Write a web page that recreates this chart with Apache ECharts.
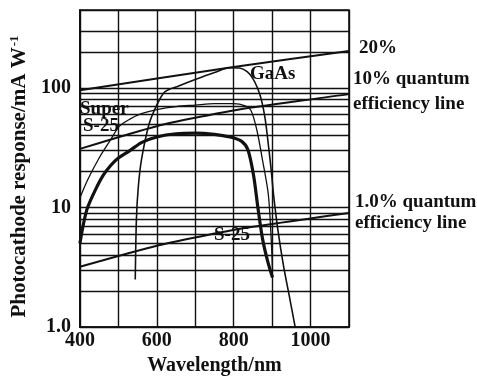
<!DOCTYPE html>
<html><head><meta charset="utf-8">
<script src="https://cdn.jsdelivr.net/npm/echarts@6/dist/echarts.min.js"></script>
<style>html,body{margin:0;padding:0;background:#fff}#c{width:477px;height:381px}</style>
</head><body><div id="c"></div>
<script>
// ---- data ----
const xLabelValues = [400, 600, 800, 1000];
const yLabelText = {1: '1.0', 10: '10', 100: '100'};
const yMinorGrid = [2,3,4,5,6,7,8,9,20,30,40,50,60,70,80,90,200,300];
const qe20 = [[400,96],[800,150],[1100,204]];
const qe10 = [[400,31],[600,48],[800,65],[1100,89]];
const qe1  = [[400,3.2],[600,4.8],[800,6.5],[1100,9.0]];
const s25 = [[400,5],[410,7.5],[420,10],[440,14],[460,18.5],[480,22.5],[500,26],[530,30],[560,35],[600,39],[650,41.5],[700,42],[750,41],[790,39],[820,36],[837,30.5],[852,18.4],[863,10],[875,5.5],[888,3.6],[901,2.6]];
const superS25 = [[400,12],[420,17],[450,26],[480,37],[503,48],[530,55],[560,61],[600,66],[650,70],[700,72],[750,74],[800,74],[830,71],[845,65],[860,45],[875,25],[890,13],[897,6],[901,3]];
const gaas = [[544,2.5],[547,8],[552,15],[560,25],[580,50],[600,72],[621,93],[657,104],[700,118],[750,135],[790,148],[815,147],[835,137],[850,120],[862,100],[872,80],[882,55],[891,32],[898,20],[904,12.6],[915,6.5],[930,3.2],[945,1.8],[960,1.0]];

const INK = '#111';
const FONT = '"Liberation Serif", "DejaVu Serif", serif';
const chart = echarts.init(document.getElementById('c'), null, {renderer: 'canvas'});

function lineSeries(name, data, width) {
  return {name, type: 'line', data, showSymbol: false, smooth: 0.3, clip: true,
    lineStyle: {color: INK, width}, silent: true, z: 5};
}
const annoStyle = {fontFamily: FONT, fontWeight: 'bold', fontSize: 19, color: INK};

const option = {
  backgroundColor: '#fff',
  animation: false,
  grid: {left: 77, right: 128, top: 10, bottom: 46, show: true, borderColor: INK, borderWidth: 1.6, backgroundColor: 'transparent'},
  xAxis: {
    type: 'value', min: 400, max: 1100, interval: 100,
    name: 'Wavelength/nm', nameLocation: 'middle', nameGap: 23,
    nameTextStyle: {fontFamily: FONT, fontWeight: 'bold', fontSize: 20, color: INK},
    axisLine: {show: true, lineStyle: {color: INK, width: 1.6}},
    axisTick: {show: false},
    axisLabel: {margin: 4, fontFamily: FONT, fontWeight: 'bold', fontSize: 20, color: INK,
      formatter: v => xLabelValues.includes(v) ? String(v) : ''},
    splitLine: {show: true, lineStyle: {color: INK, width: 1.4}}
  },
  yAxis: {
    type: 'log', logBase: 10, min: 1, max: 450,
    name: '{a|Photocathode response/mA W}{s|-1}', nameLocation: 'middle', nameGap: 43, nameRotate: 90,
    nameTextStyle: {fontFamily: FONT, fontWeight: 'bold', fontSize: 21, color: INK, padding: [0, 16, 0, 0],
      rich: {a: {fontFamily: FONT, fontWeight: 'bold', fontSize: 21, color: INK},
             s: {fontFamily: FONT, fontWeight: 'bold', fontSize: 13, color: INK, padding: [0,0,10,1]}}},
    axisLine: {show: true, lineStyle: {color: INK, width: 1.6}},
    axisTick: {show: false},
    axisLabel: {margin: 9, fontFamily: FONT, fontWeight: 'bold', fontSize: 20, color: INK,
      formatter: v => { const r = Math.round(v); return (Math.abs(v - r) < 1e-6 && yLabelText[r]) ? yLabelText[r] : ''; }},
    splitLine: {show: true, lineStyle: {color: INK, width: 1.4}}
  },
  series: [
    {type: 'line', data: [], silent: true,
      markLine: {silent: true, symbol: ['none','none'], label: {show: false},
        lineStyle: {color: INK, width: 1.4, type: 'solid'},
        data: yMinorGrid.map(v => ({yAxis: v}))}},
    Object.assign(lineSeries('20%', qe20, 2), {smooth: 0.2, endLabel: Object.assign({show: true, formatter: '20%', offset: [2, -3]}, annoStyle)}),
    Object.assign(lineSeries('10%', qe10, 2), {smooth: 0.2, endLabel: Object.assign({show: true, formatter: '10% quantum\nefficiency line', offset: [-4, -3], lineHeight: 25}, annoStyle)}),
    Object.assign(lineSeries('1%', qe1, 2), {smooth: 0.2, endLabel: Object.assign({show: true, formatter: '1.0% quantum\nefficiency line', offset: [-2, 0], lineHeight: 21}, annoStyle)}),
    lineSeries('S-25', s25, 3.2),
    lineSeries('Super S-25', superS25, 1.3),
    lineSeries('GaAs', gaas, 1.6)
  ],
  graphic: [
    {type: 'text', left: 250, top: 65, style: {text: 'GaAs', font: 'bold 19px ' + FONT, fill: INK}, z: 10},
    {type: 'text', left: 80, top: 100, style: {text: 'Super', font: 'bold 19px ' + FONT, fill: INK}, z: 10},
    {type: 'text', left: 83, top: 117, style: {text: 'S-25', font: 'bold 19px ' + FONT, fill: INK}, z: 10},
    {type: 'text', left: 214, top: 226, style: {text: 'S-25', font: 'bold 19px ' + FONT, fill: INK}, z: 10}
  ]
};
chart.setOption(option);
</script></body></html>
